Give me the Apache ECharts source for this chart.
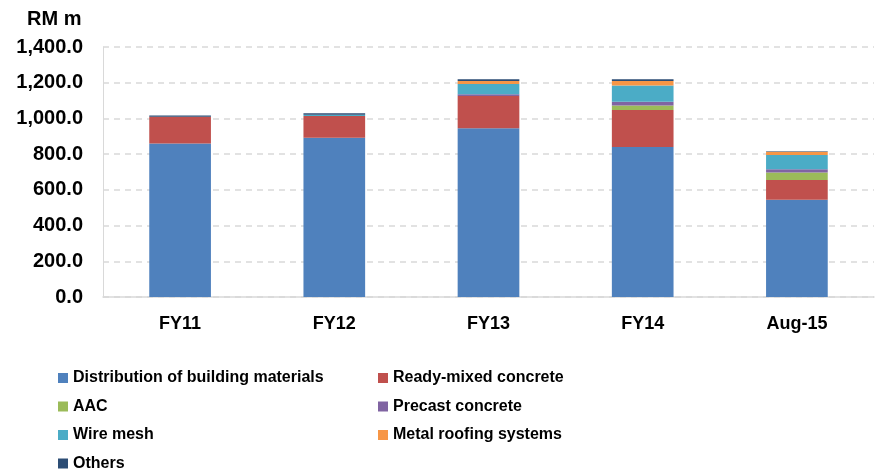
<!DOCTYPE html>
<html>
<head>
<meta charset="utf-8">
<script src="https://cdn.jsdelivr.net/npm/echarts@6/dist/echarts.min.js"></script>
<style>html,body{margin:0;padding:0;background:#fff;}#c{width:880px;height:475px;}</style>
</head>
<body>
<div id="c"></div>
<script>
const categories = ['FY11', 'FY12', 'FY13', 'FY14', 'Aug-15'];
const distribution = [859, 892, 945, 840, 545];
const readyMixed = [150, 121, 180, 207, 110];
const aac = [0, 0, 0, 26, 42];
const precast = [0, 0, 10, 21, 18];
const wireMesh = [0, 8, 58, 90, 80];
const metalRoofing = [0, 0, 16, 25, 19];
const others = [8, 8, 10, 10, 2];
const yTicks = [0, 200, 400, 600, 800, 1000, 1200, 1400];

const names = ['Distribution of building materials', 'Ready-mixed concrete', 'AAC', 'Precast concrete', 'Wire mesh', 'Metal roofing systems', 'Others'];
const colors = ['#4F81BD', '#C0504D', '#9BBB59', '#8064A2', '#4BACC6', '#F79646', '#2C4D75'];
const values = [distribution, readyMixed, aac, precast, wireMesh, metalRoofing, others];
const FONT = '"Liberation Sans", Arial, sans-serif';

const chart = echarts.init(document.getElementById('c'));
const legendBase = {
  orient: 'vertical', top: 370, height: 110, padding: 0, itemWidth: 10, itemHeight: 10, itemGap: 12.5, itemTextGap: 3,
  icon: 'rect', selectedMode: false,
  textStyle: { fontFamily: FONT, fontWeight: 'bold', fontSize: 16, color: '#000' }
};
chart.setOption({
  animation: false,
  color: colors,
  title: { text: 'RM m', left: 27, top: 9, padding: 0, textStyle: { fontFamily: FONT, fontWeight: 'bold', fontSize: 20, color: '#000' } },
  legend: [
    Object.assign({}, legendBase, { left: 58, data: [names[0], names[2], names[4], names[6]] }),
    Object.assign({}, legendBase, { left: 378, data: [names[1], names[3], names[5]] })
  ],
  grid: { left: 103, right: 6, top: 47, bottom: 178 },
  xAxis: {
    type: 'category', data: categories,
    axisLine: { lineStyle: { color: '#d9d9d9', width: 1.5 } },
    axisTick: { show: false },
    axisLabel: { fontFamily: FONT, fontWeight: 'bold', fontSize: 18, color: '#000', margin: 18 }
  },
  yAxis: {
    type: 'value', min: yTicks[0], max: yTicks[yTicks.length - 1], interval: 200,
    axisLine: { show: true, lineStyle: { color: '#d9d9d9', width: 1 } },
    axisTick: { show: false },
    splitLine: { lineStyle: { color: '#d9d9d9', width: 1.5, type: [6, 5] } },
    axisLabel: {
      fontFamily: FONT, fontWeight: 'bold', fontSize: 20, color: '#000', margin: 20,
      formatter: v => v.toLocaleString('en-US', { minimumFractionDigits: 1, maximumFractionDigits: 1 })
    }
  },
  series: names.map((n, i) => ({
    name: n, type: 'bar', stack: 'total', data: values[i], barWidth: '40%',
    itemStyle: { color: colors[i] }
  }))
});
</script>
</body>
</html>
